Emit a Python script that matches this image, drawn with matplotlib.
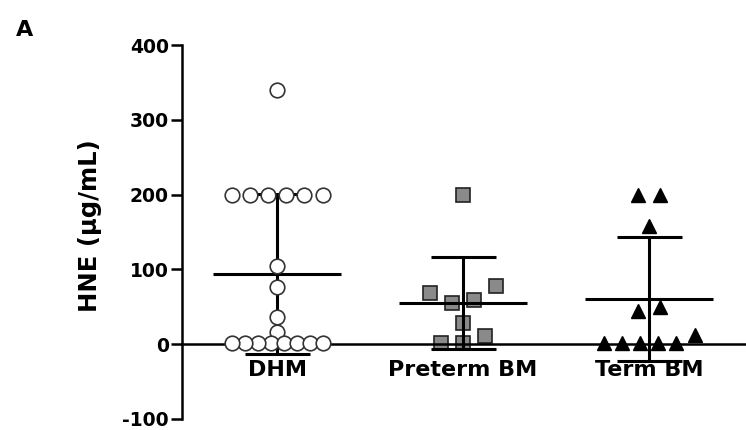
import numpy as np
import matplotlib.pyplot as plt

groups = ["DHM", "Preterm BM", "Term BM"]
dhm = [340, 200, 200, 200, 200, 200, 200, 105, 77, 37, 16, 1, 1, 1, 1, 1, 1, 1, 1]
preterm = [200, 78, 68, 59, 55, 28, 11, 1, 1]
term = [200, 200, 158, 50, 44, 12, 2, 1, 1, 1, 1]
yticks = [-100, 0, 100, 200, 300, 400]

plt.rcParams['font.family'] = 'DejaVu Sans'
plt.rcParams['font.weight'] = 'bold'
plt.rcParams['axes.unicode_minus'] = False

fig = plt.figure(figsize=(7.46, 4.3), dpi=100)
ax = fig.add_axes([182 / 746, 11 / 430, 564 / 746, 374 / 430])
ax.set_xlim(0.489, 3.521)
ax.set_ylim(-100, 400)


def scatter_rows(vals, h=10, step=22, width=91):
    # GraphPad-like layout: close values share a row, spread evenly around centre
    x0, y0 = ax.transData.transform((0, 0))
    x1, y1 = ax.transData.transform((1, 1))
    sx, sy = x1 - x0, y1 - y0
    ys = np.asarray(vals, float) * sy
    order = list(np.argsort(ys, kind='stable'))
    rows = [[order[0]]]
    for a, b in zip(order[:-1], order[1:]):
        if ys[b] - ys[a] < h:
            rows[-1].append(b)
        else:
            rows.append([b])
    xs = np.zeros(len(ys))
    for row in rows:
        n = len(row)
        if n == 1:
            continue
        sp = min(step, width / (n - 1))
        slots = (np.arange(n) - (n - 1) / 2) * sp
        slots = sorted(slots, key=lambda s: (round(abs(s), 3), s))
        for idx, s in zip(row, slots):
            xs[idx] = s
    return xs / sx


styles = [
    dict(marker='o', ms=10.5, mfc='white', mec='#333333', mew=1.2, mz=4),
    dict(marker='s', ms=10, mfc='#8a8a8a', mec='#222222', mew=1.2, mz=2),
    dict(marker='^', ms=10, mfc='black', mec='black', mew=1, mz=2),
]

for i, (vals, st) in enumerate(zip([dhm, preterm, term], styles)):
    c = i + 1
    m = np.mean(vals)
    s = np.std(vals, ddof=1)
    ax.vlines(c, m - s, m + s, color='black', lw=2.2, zorder=3)
    ax.hlines([m - s, m + s], c - 0.175, c + 0.175, color='black', lw=2.2, zorder=3)
    ax.hlines(m, c - 0.345, c + 0.345, color='black', lw=2.2, zorder=3)
    x = c + scatter_rows(vals)
    ax.plot(x, vals, ls='none', marker=st['marker'], ms=st['ms'], mfc=st['mfc'],
            mec=st['mec'], mew=st['mew'], zorder=st['mz'], clip_on=False)

for side in ['top', 'right']:
    ax.spines[side].set_visible(False)
ax.spines['left'].set_linewidth(1.8)
ax.spines['bottom'].set_linewidth(1.8)
ax.spines['bottom'].set_position(('data', 0))

ax.set_yticks(yticks)
ax.tick_params(axis='y', length=8, width=1.8, labelsize=13.5, pad=1.5)
ax.set_xticks([1, 2, 3], groups)
ax.tick_params(axis='x', length=0, labelsize=16, pad=11.5)

ax.set_ylabel("HNE (µg/mL)", fontsize=17.5, fontweight='bold')
ax.yaxis.set_label_coords((102 - 182) / 564, (419 - 226) / 374)

fig.text(25 / 746, 1 - 30 / 430, "A", ha='center', va='center', fontsize=16, fontweight='bold')

plt.savefig("out.png", dpi=100)
